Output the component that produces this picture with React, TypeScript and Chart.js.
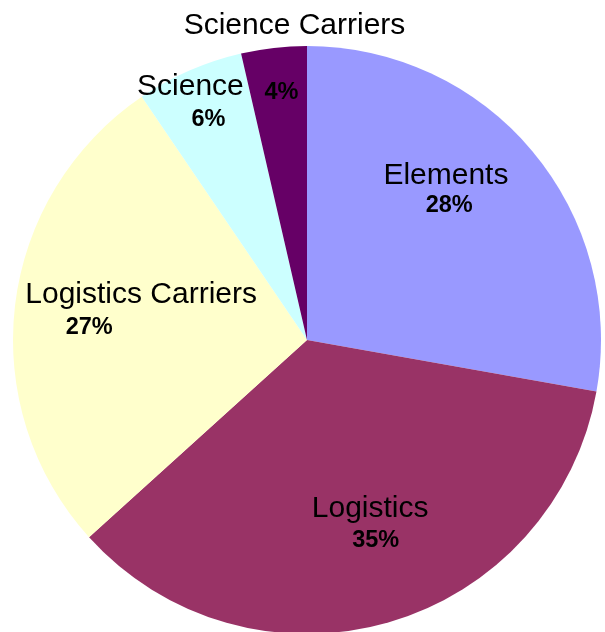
import React, { useEffect, useRef } from "react";
import { Chart, registerables } from "chart.js";

Chart.register(...registerables);

const categories = ["Elements", "Logistics", "Logistics Carriers", "Science", "Science Carriers"];
const values = [27.8, 35.49, 27.21, 5.9, 3.6];
const colors = ["#9999FF", "#993366", "#FFFFCC", "#CCFFFF", "#660066"];

// label placement relative to a point on each slice's mid-angle at 0.6 of the radius
// [nameDx, nameBaselineDy, pctDx, pctBaselineDy]
const labelOffsets = [
  [3.7, -42.9, 7, -15],
  [14.4, 7, 20, 37],
  [9.3, -16.4, -42.7, 14.6],
  [-46, -83.8, -28, -52.8],
  [7.4, -131, -5.6, -66],
];

const FONT = '"Liberation Sans", Arial, sans-serif';

const labelPlugin = {
  id: "sliceLabels",
  afterDatasetsDraw(chart: any) {
    const ctx = chart.ctx;
    const meta = chart.getDatasetMeta(0);
    const data = chart.data.datasets[0].data as number[];
    const total = data.reduce((a, b) => a + b, 0);
    ctx.save();
    ctx.fillStyle = "#000";
    ctx.textAlign = "center";
    ctx.textBaseline = "alphabetic";
    meta.data.forEach((arc: any, i: number) => {
      const { x, y, startAngle, endAngle, outerRadius } = arc.getProps(
        ["x", "y", "startAngle", "endAngle", "outerRadius"],
        true
      );
      const mid = (startAngle + endAngle) / 2;
      const ax = x + Math.cos(mid) * outerRadius * 0.6;
      const ay = y + Math.sin(mid) * outerRadius * 0.6;
      const off = labelOffsets[i];
      ctx.font = `30px ${FONT}`;
      ctx.fillText(chart.data.labels[i], ax + off[0], ay + off[1]);
      ctx.font = `bold 23.5px ${FONT}`;
      ctx.fillText(Math.round((data[i] / total) * 100) + "%", ax + off[2], ay + off[3]);
    });
    ctx.restore();
  },
};

export default function App() {
  const ref = useRef<HTMLCanvasElement | null>(null);
  useEffect(() => {
    document.body.style.margin = "0";
    if (!ref.current) return;
    const chart = new Chart(ref.current, {
      type: "pie",
      data: {
        labels: categories,
        datasets: [
          {
            data: values,
            backgroundColor: colors,
            borderWidth: 0,
            hoverOffset: 0,
            offset: 0,
          },
        ],
      },
      options: {
        animation: false,
        responsive: false,
        events: [],
        layout: { padding: { left: 13, right: 4, top: 46, bottom: 6 } },
        plugins: {
          legend: { display: false },
          tooltip: { enabled: false },
        },
      },
      plugins: [labelPlugin],
    });
    return () => chart.destroy();
  }, []);
  return (
    <div style={{ width: 605, height: 632, overflow: "hidden", background: "#fff" }}>
      <canvas ref={ref} width={605} height={640} style={{ display: "block" }} />
    </div>
  );
}
